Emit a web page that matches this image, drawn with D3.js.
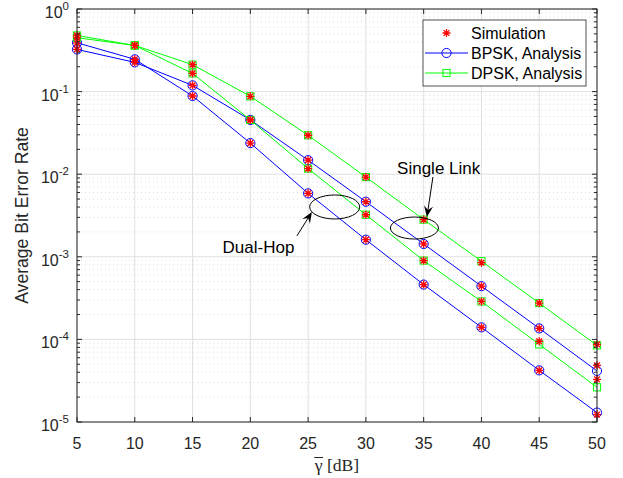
<!DOCTYPE html>
<html>
<head>
<meta charset="utf-8">
<script src="https://cdn.jsdelivr.net/npm/d3@7"></script>
<style>
  body { margin: 0; background: #fff; }
  svg text { font-family: "Liberation Sans", Arial, Helvetica, sans-serif; fill: #262626; }
</style>
</head>
<body>
<div id="chart"></div>
<script>
// SNR points (dB)
const snr = [5, 10, 15, 20, 25, 30, 35, 40, 45, 50];

// analysis curves
const bpskSingle = [0.324, 0.226, 0.119, 0.0454, 0.0148, 0.00464, 0.00143, 0.000441, 0.000136, 0.0000415];
const bpskDual = [0.39, 0.246, 0.0885, 0.0238, 0.00586, 0.00161, 0.000461, 0.00014, 0.0000422, 0.000013];
const dpskSingle = [0.449, 0.362, 0.212, 0.0877, 0.0296, 0.00923, 0.00282, 0.000885, 0.000275, 0.0000847];
const dpskDual = [0.478, 0.362, 0.166, 0.0454, 0.0117, 0.00323, 0.0009, 0.000288, 0.000087, 0.0000263];

// simulation points
const simBpskSingle = [0.324, 0.226, 0.119, 0.0454, 0.0148, 0.00464, 0.00143, 0.000441, 0.000136, 0.0000485];
const simBpskDual = [0.39, 0.246, 0.0885, 0.0238, 0.00586, 0.00161, 0.000461, 0.00014, 0.0000422, 0.0000123];
const simDpskSingle = [0.449, 0.362, 0.212, 0.0877, 0.0296, 0.00923, 0.00282, 0.00085, 0.000275, 0.0000868];
const simDpskDual = [0.478, 0.362, 0.166, 0.0454, 0.0117, 0.00323, 0.0009, 0.000288, 0.0000948, 0.0000329];

const xTicks = [5, 10, 15, 20, 25, 30, 35, 40, 45, 50];
const yExps = [0, -1, -2, -3, -4, -5];

const legendLabels = ["Simulation", "BPSK, Analysis", "DPSK, Analysis"];

let width = 623;
let height = 478;
let margin = { top: 9, right: 26, bottom: 56, left: 77 };

let svg = d3.select("#chart").append("svg")
  .attr("width", width).attr("height", height);

let x = d3.scaleLinear().domain([5, 50]).range([margin.left, width - margin.right]);
let y = d3.scaleLog().domain([1e-5, 1]).range([height - margin.bottom, margin.top]);

const axisCol = "#262626";

// grid: minor dotted (y only), major solid
let grid = svg.append("g");
let minorVals = [];
for (let e = -5; e < 0; e++) {
  for (let k = 2; k <= 9; k++) minorVals.push(k * Math.pow(10, e));
}
grid.selectAll(".minor").data(minorVals).enter().append("line")
  .attr("x1", margin.left).attr("x2", width - margin.right)
  .attr("y1", d => y(d)).attr("y2", d => y(d))
  .attr("stroke", "#c8c8c8").attr("stroke-width", 0.6)
  .attr("stroke-dasharray", "1,3");
grid.selectAll(".hmaj").data(yExps).enter().append("line")
  .attr("x1", margin.left).attr("x2", width - margin.right)
  .attr("y1", d => y(Math.pow(10, d))).attr("y2", d => y(Math.pow(10, d)))
  .attr("stroke", "#e0e0e0").attr("stroke-width", 1);
grid.selectAll(".vmaj").data(xTicks).enter().append("line")
  .attr("x1", d => x(d)).attr("x2", d => x(d))
  .attr("y1", margin.top).attr("y2", height - margin.bottom)
  .attr("stroke", "#e0e0e0").attr("stroke-width", 1);

// series
const series = [
  { vals: bpskSingle, sim: simBpskSingle, color: "#0000ff", marker: "circle" },
  { vals: bpskDual, sim: simBpskDual, color: "#0000ff", marker: "circle" },
  { vals: dpskSingle, sim: simDpskSingle, color: "#00ff00", marker: "square" },
  { vals: dpskDual, sim: simDpskDual, color: "#00ff00", marker: "square" }
];

let line = d3.line().x(d => x(d[0])).y(d => y(d[1]));

function drawMarker(g, type, color) {
  if (type === "circle") {
    g.append("circle").attr("r", 4.6).attr("fill", "none")
      .attr("stroke", color).attr("stroke-width", 1);
  } else if (type === "square") {
    g.append("rect").attr("x", -3.6).attr("y", -3.6).attr("width", 7.2).attr("height", 7.2)
      .attr("fill", "none").attr("stroke", color).attr("stroke-width", 1);
  } else if (type === "star") {
    g.append("path").attr("d", "M-4,0H4M0,-4V4M-2.9,-2.9L2.9,2.9M-2.9,2.9L2.9,-2.9")
      .attr("stroke", color).attr("stroke-width", 1.3).attr("fill", "none");
  }
}

let plot = svg.append("g");
series.forEach(s => {
  let pts = snr.map((v, i) => [v, s.vals[i]]);
  plot.append("path").datum(pts).attr("d", line)
    .attr("fill", "none").attr("stroke", s.color).attr("stroke-width", 1);
  pts.forEach(p => {
    let g = plot.append("g").attr("transform", `translate(${x(p[0])},${y(p[1])})`);
    drawMarker(g, s.marker, s.color);
  });
});
series.forEach(s => {
  snr.forEach((v, i) => {
    let g = plot.append("g").attr("transform", `translate(${x(v)},${y(s.sim[i])})`);
    drawMarker(g, "star", "#ff0000");
  });
});

// axes box
let ax = svg.append("g");
let x0 = margin.left, x1 = width - margin.right, y0 = margin.top, y1 = height - margin.bottom;
ax.append("rect").attr("x", x0).attr("y", y0).attr("width", x1 - x0).attr("height", y1 - y0)
  .attr("fill", "none").attr("stroke", axisCol).attr("stroke-width", 1);

// x ticks (bottom & top, inward)
xTicks.forEach(t => {
  ax.append("line").attr("x1", x(t)).attr("x2", x(t)).attr("y1", y1).attr("y2", y1 - 5)
    .attr("stroke", axisCol);
  ax.append("line").attr("x1", x(t)).attr("x2", x(t)).attr("y1", y0).attr("y2", y0 + 5)
    .attr("stroke", axisCol);
  ax.append("text").attr("x", x(t)).attr("y", y1 + 27).attr("text-anchor", "middle")
    .style("font-size", "16px").text(t);
});

// y ticks (left & right, major and minor)
yExps.forEach(e => {
  let yy = y(Math.pow(10, e));
  ax.append("line").attr("x1", x0).attr("x2", x0 + 5).attr("y1", yy).attr("y2", yy).attr("stroke", axisCol);
  ax.append("line").attr("x1", x1).attr("x2", x1 - 5).attr("y1", yy).attr("y2", yy).attr("stroke", axisCol);
  let tx = ax.append("text").attr("x", x0 - 8).attr("y", yy + 9).attr("text-anchor", "end")
    .style("font-size", "16px");
  tx.append("tspan").text("10");
  tx.append("tspan").attr("dy", -8).style("font-size", "11.5px").text(String(e));
});
minorVals.forEach(v => {
  let yy = y(v);
  ax.append("line").attr("x1", x0).attr("x2", x0 + 3).attr("y1", yy).attr("y2", yy).attr("stroke", axisCol);
  ax.append("line").attr("x1", x1).attr("x2", x1 - 3).attr("y1", yy).attr("y2", yy).attr("stroke", axisCol);
});

// axis labels
ax.append("text")
  .attr("transform", `translate(28,${(y0 + y1) / 2}) rotate(-90)`)
  .attr("text-anchor", "middle").style("font-size", "17.6px")
  .text("Average Bit Error Rate");

let xl = ax.append("text").attr("x", (x0 + x1) / 2).attr("y", 471)
  .attr("text-anchor", "middle")
  .style("font-family", "'Liberation Serif', 'Times New Roman', serif")
  .style("font-size", "17.6px");
xl.append("tspan").text("γ");
xl.append("tspan").text(" [dB]");
{
  let n = xl.node();
  let start = n.getStartPositionOfChar(0);
  let wG = n.getSubStringLength(0, 1);
  ax.append("line").attr("x1", start.x - 0.5).attr("x2", start.x + wG + 0.5)
    .attr("y1", 471 - 13.5).attr("y2", 471 - 13.5)
    .attr("stroke", axisCol).attr("stroke-width", 1);
}

// annotations (ellipses and arrows, in data units)
const annEllipses = [
  { cx: 34.2, cy: 0.00223, rx: 24, ry: 11 },
  { cx: 27.3, cy: 0.00401, rx: 25, ry: 12 }
];
const annArrows = [
  { from: [35.8, 0.00925], to: [35.28, 0.00303] },
  { from: [24.03, 0.00179], to: [25.33, 0.00349] }
];
const annTexts = [
  { x: 32.7, y: 0.0100, text: "Single Link" },
  { x: 17.6, y: 0.00111, text: "Dual-Hop" }
];

let ann = svg.append("g");
annEllipses.forEach(e => {
  ann.append("ellipse").attr("cx", x(e.cx)).attr("cy", y(e.cy)).attr("rx", e.rx).attr("ry", e.ry)
    .attr("fill", "none").attr("stroke", "#000").attr("stroke-width", 1);
});
annArrows.forEach(a => {
  let fx = x(a.from[0]), fy = y(a.from[1]), tx = x(a.to[0]), ty = y(a.to[1]);
  let ang = Math.atan2(ty - fy, tx - fx);
  let L = 11, W = 4.5, notch = 7;
  let bx = tx - L * Math.cos(ang), by = ty - L * Math.sin(ang);
  let nx = tx - notch * Math.cos(ang), ny = ty - notch * Math.sin(ang);
  let px = -Math.sin(ang), py = Math.cos(ang);
  ann.append("line").attr("x1", fx).attr("y1", fy).attr("x2", nx).attr("y2", ny)
    .attr("stroke", "#000").attr("stroke-width", 1);
  ann.append("path")
    .attr("d", `M${tx},${ty}L${bx + W * px},${by + W * py}L${nx},${ny}L${bx - W * px},${by - W * py}Z`)
    .attr("fill", "#000");
});
annTexts.forEach(t => {
  ann.append("text").attr("x", x(t.x)).attr("y", y(t.y))
    .style("font-size", "17px").style("fill", "#000").text(t.text);
});

// legend
let lg = svg.append("g");
lg.append("rect").attr("x", 423).attr("y", 20).attr("width", 163).attr("height", 66)
  .attr("fill", "#fff").attr("stroke", axisCol).attr("stroke-width", 0.8);
const legendItems = [
  { label: legendLabels[0], color: "#ff0000", marker: "star", line: false },
  { label: legendLabels[1], color: "#0000ff", marker: "circle", line: true },
  { label: legendLabels[2], color: "#00ff00", marker: "square", line: true }
];
legendItems.forEach((it, i) => {
  let yy = 33 + i * 20;
  if (it.line) {
    lg.append("line").attr("x1", 425).attr("x2", 468).attr("y1", yy).attr("y2", yy)
      .attr("stroke", it.color).attr("stroke-width", 1);
  }
  let g = lg.append("g").attr("transform", `translate(446.5,${yy})`);
  drawMarker(g, it.marker, it.color);
  lg.append("text").attr("x", 471).attr("y", yy + 5.5)
    .style("font-size", "16px").style("fill", "#000").text(it.label);
});
</script>
</body>
</html>
